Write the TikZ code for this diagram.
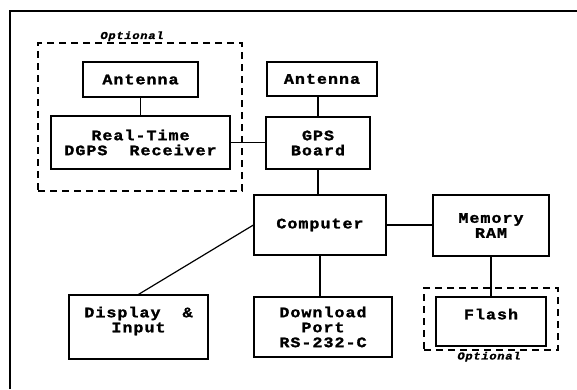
\documentclass[tikz,border=0pt]{standalone}
\usepackage{fontspec}
\usepackage{tikz}
\newfontfamily\boxfont[FakeStretch=1.15,LetterSpace=7,FakeBold=1.6]{Liberation Mono}
\tikzset{
	blk/.style={draw,line width=1.2pt,align=center,inner sep=0pt,
		font={\boxfont\bfseries\fontsize{14.5}{15}\selectfont}},
	wire/.style={line width=1.2pt},
	optbox/.style={draw,line width=1.3pt,dash pattern=on 7pt off 5pt,inner sep=0pt},
	optlbl/.style={inner sep=1pt,font={\boxfont\bfseries\itshape\fontsize{10.5}{12}\selectfont}}
}
\begin{document}
\begin{tikzpicture}[x=1pt,y=-1pt]
			\useasboundingbox (0,0) rectangle (577,389);
			\draw[line width=2pt] (10,389) -- (10,10.5) -- (577,10.5);
			\node[optbox,minimum width=204,minimum height=148,label={[optlbl,xshift=-8pt]above:Optional}] (optA) at (140,117) {};
			\node[optbox,minimum width=134,minimum height=62,label={[optlbl,xshift=-2pt]below:Optional}] (optB) at (491,319) {};
			\node[blk,minimum width=115,minimum height=35] (antL) at (140.5,79.5) {Antenna};
			\node[blk,minimum width=179,minimum height=53] (rcv) at (140.5,142.5) {Real-Time\\DGPS~~Receiver};
			\node[blk,minimum width=110,minimum height=34] (antR) at (322,79) {Antenna};
			\node[blk,minimum width=104,minimum height=52] (gps) at (318,143) {GPS\\Board};
			\node[blk,minimum width=132,minimum height=60] (comp) at (320,225) {Computer};
			\node[blk,minimum width=116,minimum height=61] (mem) at (491,225.5) {Memory\\RAM};
			\node[blk,minimum width=139,minimum height=64] (disp) at (138.5,327) {Display~~\&\\Input\\~};
			\node[blk,minimum width=138,minimum height=60] (port) at (323,327) {Download\\Port\\RS-232-C};
			\node[blk,minimum width=110,minimum height=49] (flash) at (491,321.5) {Flash\\~};
			\draw[wire] (antL) -- (rcv);
			\draw[wire] (rcv.east) -- (rcv.east -| gps.west);
			\draw[wire] (gps.north) -- (gps.north |- antR.south);
			\draw[wire] (gps.south) -- (gps.south |- comp.north);
			\draw[wire] (comp.east) -- (comp.east -| mem.west);
			\draw[wire] (comp.south) -- (comp.south |- port.north);
			\draw[wire] (mem) -- (flash);
			\draw[wire] (comp.west) -- (disp.north);
		\end{tikzpicture}
\end{document}
